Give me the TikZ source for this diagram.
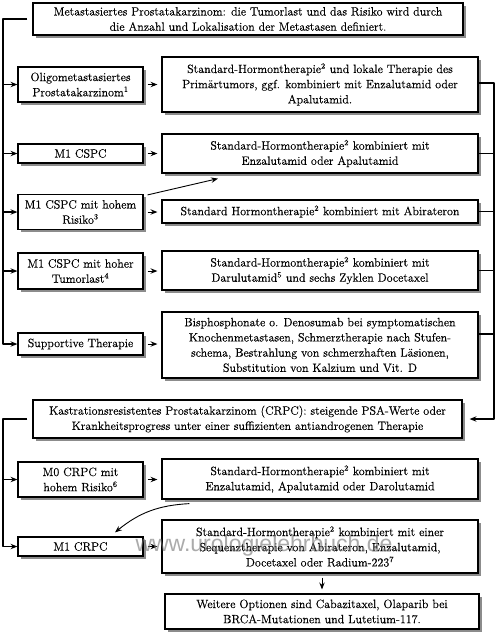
\documentclass[tikz,border=0pt]{standalone}
\usepackage{fontspec}
\setmainfont{Latin Modern Roman}[FakeBold=0.35]
\newfontfamily\wmfont{Liberation Sans}
\usetikzlibrary{arrows.meta,shadows}
\begin{document}
\begin{tikzpicture}[x=1pt,y=-1pt,
  box/.style={draw, line width=1.2pt, fill=white, align=center, inner sep=0pt,
    drop shadow={shadow xshift=2.5pt, shadow yshift=-2.5pt, fill=black!45, opacity=1},
    font=\fontsize{12}{15.2}\selectfont},
  lbox/.style={box, minimum width=125pt},
  rbox/.style={box, minimum width=316pt},
  trunk/.style={line width=1.4pt, line join=round},
  tip/.style={-{Stealth[length=7pt,width=5.5pt,inset=2.5pt]}},
  arr/.style={trunk, tip},
  midarr/.style={line width=1pt, tip, shorten <=4pt, shorten >=4pt},
  thinarr/.style={line width=0.9pt, tip}]
\useasboundingbox (0,0) rectangle (497,633);
\fill[white] (0,0) rectangle (497,633);

\node[box, minimum width=430pt, minimum height=32pt] (top) at (248,19)
  {Metastasiertes Prostatakarzinom: die Tumorlast und das Risiko wird durch\\die Anzahl und Lokalisation der Metastasen definiert.};

\node[lbox, minimum height=35pt] (oligo) at (80.5,84.5) {Oligometastasiertes\\Prostatakarzinom\textsuperscript{1}};
\node[lbox, minimum height=19pt] (m1) at (80.5,153.5) {M1 CSPC};
\node[lbox, minimum height=35pt] (risk) at (80.5,212) {M1 CSPC mit hohem\\Risiko\textsuperscript{3}};
\node[lbox, minimum height=36pt] (tumor) at (80.5,271) {M1 CSPC mit hoher\\Tumorlast\textsuperscript{4}};
\node[lbox, minimum height=22pt] (supp) at (80.5,344) {Supportive Therapie};

\node[rbox, minimum height=55pt] (r1) at (320,84.5) {Standard-Hormontherapie\textsuperscript{2} und lokale Therapie des\\Primärtumors, ggf. kombiniert mit Enzalutamid oder\\Apalutamid.};
\node[rbox, minimum height=39pt] (r2) at (320,153.5) {Standard-Hormontherapie\textsuperscript{2} kombiniert mit\\Enzalutamid oder Apalutamid};
\node[rbox, minimum height=23pt] (r3) at (320,211.5) {Standard Hormontherapie\textsuperscript{2} kombiniert mit Abirateron};
\node[rbox, minimum height=39pt] (r4) at (320,270.5) {Standard-Hormontherapie\textsuperscript{2} kombiniert mit\\Darulutamid\textsuperscript{5} und sechs Zyklen Docetaxel};
\node[rbox, minimum height=66pt] (r5) at (320,345) {Bisphosphonate o. Denosumab bei symptomatischen\\Knochenmetastasen, Schmerztherapie nach Stufen-\\schema, Bestrahlung von schmerzhaften Läsionen,\\Substitution von Kalzium und Vit. D};

\node[box, minimum width=429pt, minimum height=38pt] (crpc) at (247.5,419)
  {Kastrationsresistentes Prostatakarzinom (CRPC): steigende PSA-Werte oder\\Krankheitsprogress unter einer suffizienten antiandrogenen Therapie};

\node[lbox, minimum height=35pt] (m0) at (80.5,479.5) {M0 CRPC mit\\hohem Risiko\textsuperscript{6}};
\node[lbox, minimum height=19pt] (m1c) at (80.5,546.5) {M1 CRPC};
\node[rbox, minimum height=40pt] (rm0) at (320,479) {Standard-Hormontherapie\textsuperscript{2} kombiniert mit\\Enzalutamid, Apalutamid oder Darolutamid};
\node[rbox, minimum height=53pt] (rm1) at (320,546.5) {Standard-Hormontherapie\textsuperscript{2} kombiniert mit einer\\Sequenztherapie von Abirateron, Enzalutamid,\\Docetaxel oder Radium-223\textsuperscript{7}};
\node[box, minimum width=314pt, minimum height=35pt] (final) at (322,611.5) {Weitere Optionen sind Cabazitaxel, Olaparib bei\\BRCA-Mutationen und Lutetium-117.};

\coordinate (tx) at (3,0);
\coordinate (rx) at (494,0);
\coordinate (r1s) at ([yshift=1.5pt]r1.east);
\coordinate (r5s) at ([yshift=11pt]r5.east);

% left trunk (upper)
\draw[arr] ([xshift=-5pt]top.west) -- (tx |- top.west) -- (tx |- supp.west) -- (supp.west);
\foreach \n in {oligo,m1,risk,tumor}
  \draw[arr] (tx |- \n.west) -- (\n.west);

% middle arrows
\foreach \a/\b in {oligo/r1,m1/r2,risk/r3,tumor/r4,supp/r5,m0/rm0,m1c/rm1}
  \draw[midarr] (\a.east) -- (\a.east -| \b.west);

% diagonal arrow
\draw[thinarr] ([xshift=4pt,yshift=-1pt]risk.north east) -- ([xshift=-102pt,yshift=-5pt]r2.south);

% right trunk
\draw[arr, shorten >=7pt] (r1s) -- (rx |- r1s) -- (rx |- crpc.east) -- (crpc.east);
\foreach \n in {r2,r3,r4}
  \draw[trunk] (\n.east) -- (rx |- \n.east);
\draw[trunk] (r5s) -- (rx |- r5s);

% left trunk (lower)
\draw[arr] ([xshift=-5pt]crpc.west) -- (tx |- crpc.west) -- (tx |- m1c.west) -- (m1c.west);
\draw[arr] (tx |- m0.west) -- (m0.west);

% curved arrow
\draw[thinarr] ([xshift=28pt,yshift=-4pt]rm0.south west) to[bend right=18] ([xshift=34.5pt,yshift=4pt]m1c.north);

% down arrow
\draw[thinarr, shorten <=4pt, shorten >=4pt] (rm1.south -| final.north) -- (final.north);

% watermark
\node[text=black!55, opacity=0.6, font=\wmfont\fontsize{23}{23}\selectfont, inner sep=0pt] (wm) at (264,546) {www.urologielehrbuch.de};
\end{tikzpicture}
\end{document}
